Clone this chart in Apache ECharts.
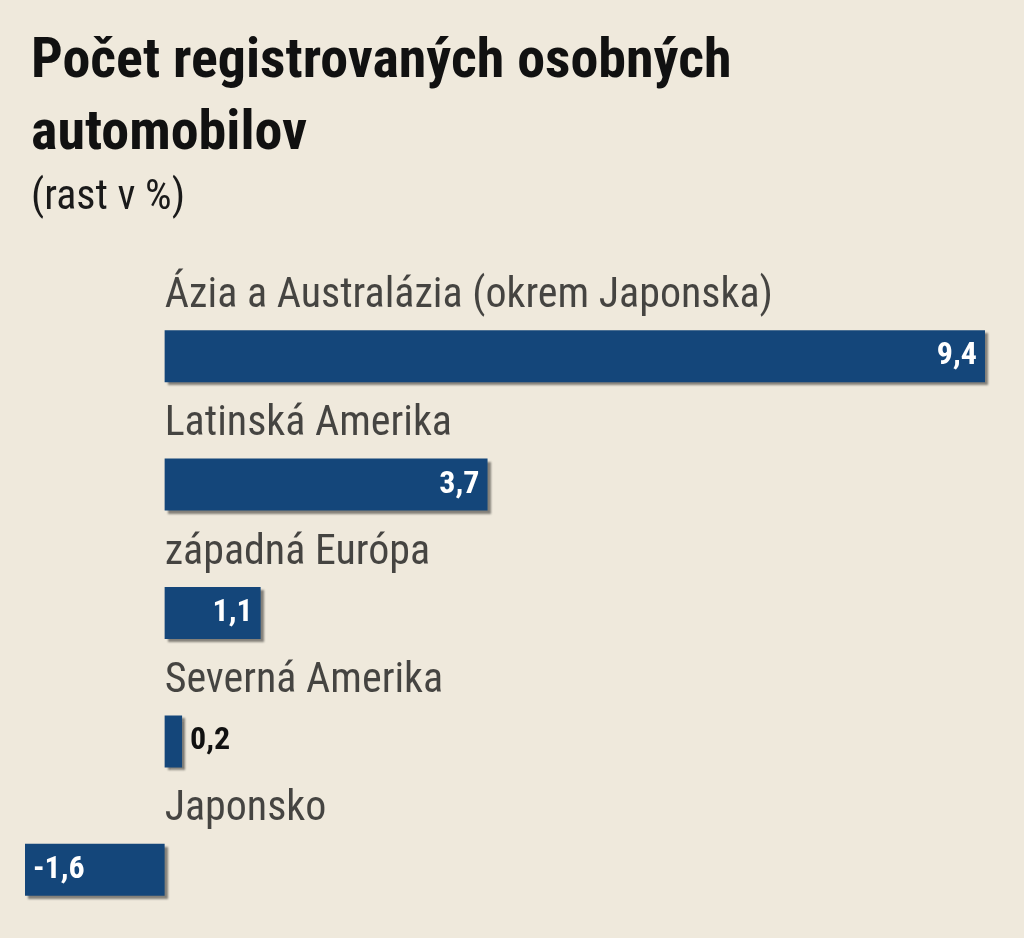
<!DOCTYPE html>
<html>
<head>
<meta charset="utf-8">
<script src="https://cdn.jsdelivr.net/npm/echarts@6/dist/echarts.min.js"></script>
<style>
html, body { margin: 0; padding: 0; background: #efe9dc; }
#chart { width: 1024px; height: 938px; }
</style>
</head>
<body>
<div id="chart"></div>
<script>
var categories = ['Ázia a Australázia (okrem Japonska)', 'Latinská Amerika', 'západná Európa', 'Severná Amerika', 'Japonsko'];
var values = [9.4, 3.7, 1.1, 0.2, -1.6];

var FONT = '"Liberation Sans Narrow", "Roboto Condensed", "DejaVu Sans Condensed", sans-serif';

function fmt(v) { return String(v).replace('.', ','); }

var barData = values.map(function(v) {
	var pos = v < 0 ? 'insideLeft' : (v < 0.5 ? 'right' : 'insideRight');
	return {
		value: v,
		label: {
			position: pos,
			color: v < 0.5 && v >= 0 ? '#111111' : '#ffffff',
			distance: 8
		}
	};
});

var nameData = categories.map(function(c) { return [0, c]; });

var chart = echarts.init(document.getElementById('chart'));
chart.setOption({
	backgroundColor: '#efe9dc',
	animation: false,
	title: [{
		text: 'Počet registrovaných osobných\nautomobilov',
		left: 26,
		top: 22,
		textStyle: { fontFamily: FONT, fontSize: 56, fontWeight: 'bold', color: '#111111', lineHeight: 72 }
	}, {
		text: '(rast v %)',
		left: 26,
		top: 172,
		textStyle: { fontFamily: FONT, fontSize: 42, fontWeight: 'normal', color: '#1a1a1a' }
	}],
	grid: { left: 25, right: 39, top: 292, bottom: 4 },
	xAxis: { type: 'value', min: -1.6, max: 9.4, show: false },
	yAxis: {
		type: 'category', data: categories, inverse: true,
		axisLine: { show: false }, axisTick: { show: false }, axisLabel: { show: false }, splitLine: { show: false }
	},
	series: [{
		type: 'bar',
		data: barData,
		barWidth: 52,
		itemStyle: {
			color: '#14467a',
			shadowColor: 'rgba(0,0,0,0.45)',
			shadowOffsetX: 3,
			shadowOffsetY: 3,
			shadowBlur: 2
		},
		label: {
			show: true,
			fontFamily: FONT,
			fontSize: 32,
			fontWeight: 'bold',
			formatter: function(p) { return fmt(p.value); }
		}
	}, {
		type: 'scatter',
		data: nameData,
		symbolSize: 0,
		silent: true,
		label: {
			show: true,
			position: 'right',
			distance: 0,
			offset: [0, -60],
			fontFamily: FONT,
			fontSize: 42,
			color: '#1a1a1a',
			formatter: function(p) { return p.value[1]; }
		}
	}]
});
</script>
</body>
</html>
